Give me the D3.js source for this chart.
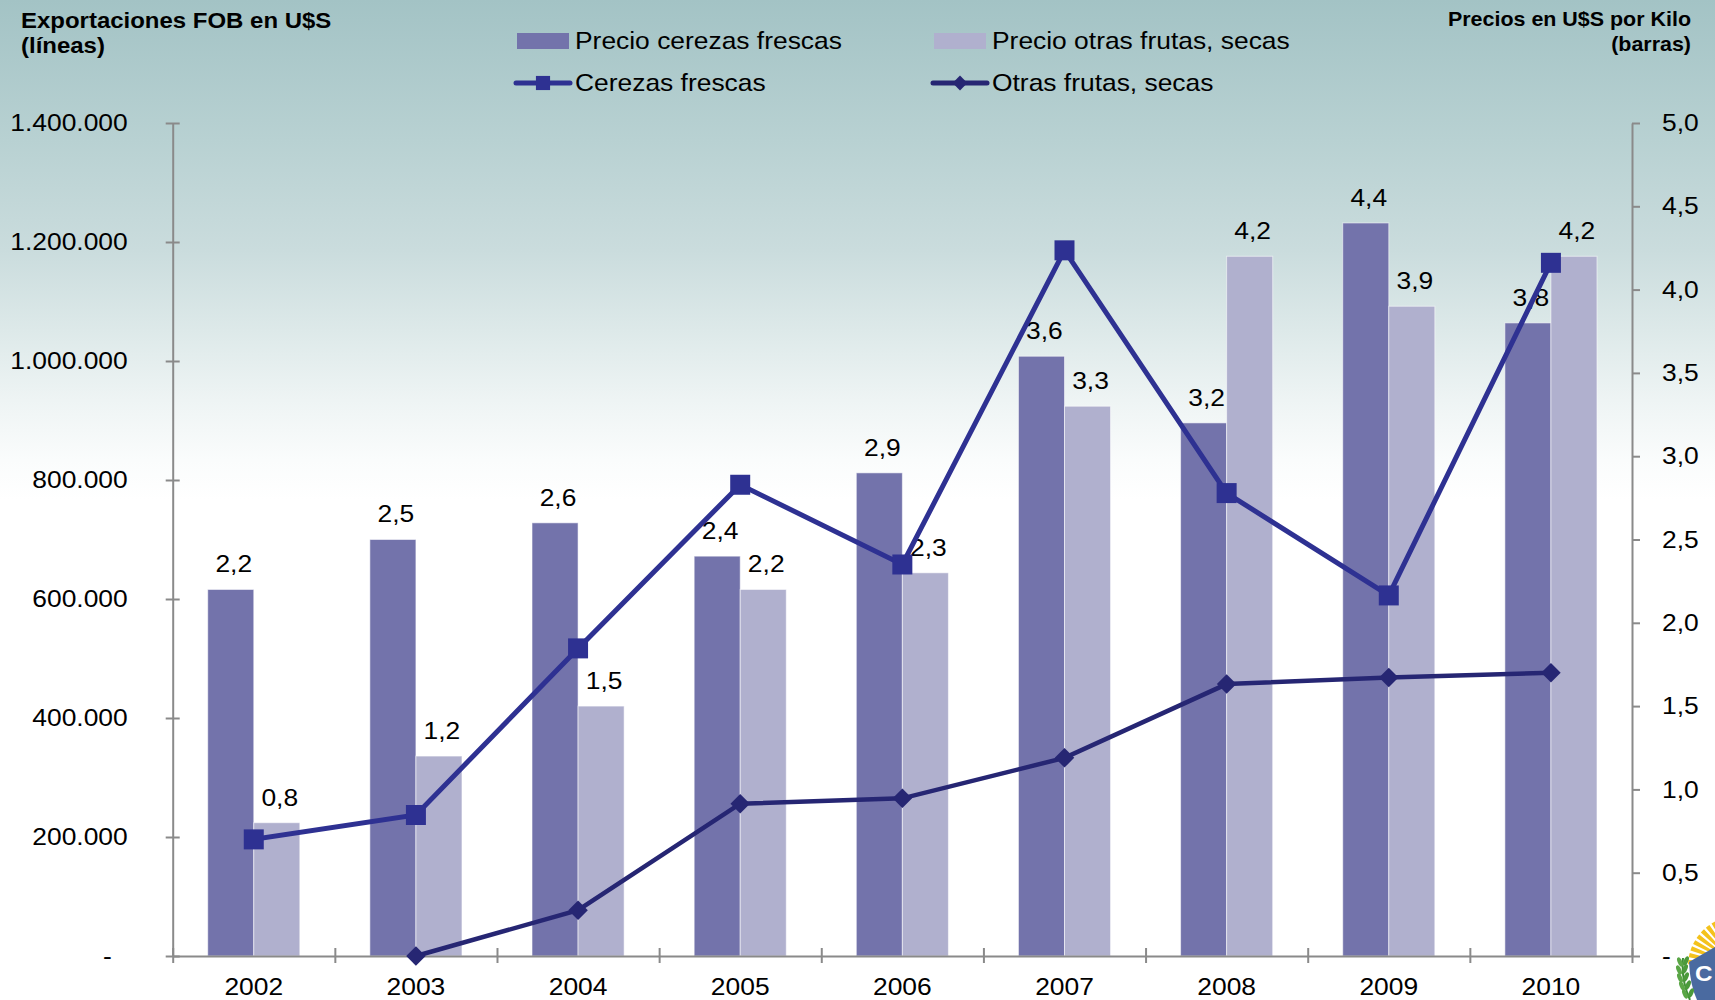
<!DOCTYPE html>
<html>
<head>
<meta charset="utf-8">
<script src="https://cdn.jsdelivr.net/npm/d3@7"></script>
<style>
  html, body { margin: 0; padding: 0; background: #fff; }
  svg { display: block; }
</style>
</head>
<body>
<svg id="chart" width="1715" height="1000"></svg>
<script>
// ---- data ----
const years = ["2002", "2003", "2004", "2005", "2006", "2007", "2008", "2009", "2010"];
// price per kilo (bars, right axis)
const precioCerezas = [2.2, 2.5, 2.6, 2.4, 2.9, 3.6, 3.2, 4.4, 3.8];
const precioOtras   = [0.8, 1.2, 1.5, 2.2, 2.3, 3.3, 4.2, 3.9, 4.2];
// FOB exports in US$ (lines, left axis)
const fobCerezas = [196000, 237000, 517000, 792000, 658000, 1186000, 778000, 606000, 1165000];
const fobOtras   = [null, 0, 77000, 256000, 265000, 333000, 457000, 468000, 476000];
// axis ticks
const leftTicks  = [0, 200000, 400000, 600000, 800000, 1000000, 1200000, 1400000];
const rightTicks = [0, 0.5, 1, 1.5, 2, 2.5, 3, 3.5, 4, 4.5, 5];

const legendItems = [
  { label: "Precio cerezas frescas", type: "bar", color: "#7373ab" },
  { label: "Precio otras frutas, secas", type: "bar", color: "#b0b0ce" },
  { label: "Cerezas frescas", type: "square", color: "#2e3192" },
  { label: "Otras frutas, secas", type: "diamond", color: "#262673" }
];

// ---- setup ----
const SX = 1.1; // horizontal text stretch
const FONT = "'Liberation Sans', Arial, Helvetica, sans-serif";
const svg = d3.select("#chart");
const W = 1715, H = 1000;
const plotLeft = 172.7, plotRight = 1632, plotTop = 123, plotBottom = 956;

const loc = d3.formatLocale({ decimal: ",", thousands: ".", grouping: [3], currency: ["$", ""] });
const fmtInt = loc.format(",.0f");
const fmt1 = loc.format(".1f");

// background gradient
const defs = svg.append("defs");
const grad = defs.append("linearGradient").attr("id", "bg").attr("x1", 0).attr("y1", 0).attr("x2", 0).attr("y2", 1);
[[0, "#a3c3c5"], [0.14, "#b8d1d2"], [0.25, "#cadcdd"], [0.33, "#dde9e9"], [0.40, "#eef4f4"], [0.46, "#fafcfc"], [0.5, "#ffffff"], [1, "#ffffff"]]
  .forEach(([o, c]) => grad.append("stop").attr("offset", o).attr("stop-color", c));
svg.append("rect").attr("width", W).attr("height", H).attr("fill", "url(#bg)");

// ---- scales ----
const x = d3.scaleBand().domain(years).range([plotLeft, plotRight]).padding(0);
const xs = d3.scaleBand().domain(["cer", "otr"])
  .range([x.bandwidth() * 0.216, x.bandwidth() * 0.784]).padding(0);
const yL = d3.scaleLinear().domain([0, 1400000]).range([plotBottom, plotTop]);
const yR = d3.scaleLinear().domain([0, 5]).range([plotBottom, plotTop]);

// ---- bars ----
const barData = years.flatMap((y, i) => [
  { year: y, key: "cer", v: precioCerezas[i], color: "#7373ab" },
  { year: y, key: "otr", v: precioOtras[i], color: "#b0b0ce" }
]);
const gBars = svg.append("g");
gBars.selectAll("rect").data(barData).join("rect")
  .attr("x", d => x(d.year) + xs(d.key))
  .attr("width", xs.bandwidth())
  .attr("y", d => yR(d.v))
  .attr("height", d => yR(0) - yR(d.v))
  .attr("fill", d => d.color)
  .attr("stroke", "rgba(255,255,255,0.55)")
  .attr("stroke-width", 1);

// ---- axes ----
function styleAxis(g) {
  g.attr("font-family", FONT).attr("font-size", 24).attr("color", "#8a8a8a");
  g.selectAll(".domain").attr("stroke-width", 2);
  g.selectAll(".tick line").attr("stroke-width", 2);
  g.selectAll(".tick text").attr("fill", "#000");
}

const gLeft = svg.append("g").attr("transform", `translate(${plotLeft},0)`)
  .call(d3.axisLeft(yL).tickValues(leftTicks).tickSize(7).tickSizeOuter(0).tickPadding(38)
    .tickFormat(v => v === 0 ? "-" : fmtInt(v)));
styleAxis(gLeft);
gLeft.selectAll(".tick line").attr("x1", 7);
gLeft.selectAll(".tick text").filter(d => d === 0).attr("x", -61);

const gRight = svg.append("g").attr("transform", `translate(${plotRight},0)`)
  .call(d3.axisRight(yR).tickValues(rightTicks).tickSize(8).tickSizeOuter(0).tickPadding(22)
    .tickFormat(v => v === 0 ? "-" : fmt1(v)));
styleAxis(gRight);

// category boundaries on the x axis
const xb = d3.scaleLinear().domain([0, years.length]).range([plotLeft, plotRight]);
const gXb = svg.append("g").attr("transform", `translate(0,${plotBottom})`)
  .call(d3.axisBottom(xb).tickValues(d3.range(years.length + 1)).tickSize(7).tickSizeOuter(0).tickFormat(""));
styleAxis(gXb);
gXb.selectAll(".tick line").attr("y1", -8);

const gX = svg.append("g").attr("transform", `translate(0,${plotBottom})`)
  .call(d3.axisBottom(x).tickSize(0).tickPadding(22));
styleAxis(gX);
gX.select(".domain").remove();

// ---- bar value labels ----
svg.append("g").selectAll("text").data(barData).join("text")
  .attr("x", d => x(d.year) + xs(d.key) + xs.bandwidth() / 2 + 3)
  .attr("y", d => yR(d.v) - 17)
  .attr("text-anchor", "middle")
  .attr("font-family", FONT).attr("font-size", 24).attr("fill", "#000")
  .text(d => fmt1(d.v));

// ---- lines ----
const cx = y => x(y) + x.bandwidth() / 2;
function drawSeries(values, color, width, marker) {
  const pts = years.map((y, i) => ({ year: y, v: values[i] }));
  const line = d3.line().defined(d => d.v != null).x(d => cx(d.year)).y(d => yL(d.v));
  svg.append("path").datum(pts).attr("d", line)
    .attr("fill", "none").attr("stroke", color).attr("stroke-width", width).attr("stroke-linejoin", "miter");
  const sym = marker === "square" ? d3.symbol(d3.symbolSquare, 400) : d3.symbol(d3.symbolSquare, 190);
  svg.append("g").selectAll("path").data(pts.filter(d => d.v != null)).join("path")
    .attr("d", sym)
    .attr("transform", d => `translate(${cx(d.year)},${yL(d.v)})` + (marker === "diamond" ? " rotate(45)" : ""))
    .attr("fill", color);
}
drawSeries(fobOtras, "#262673", 4.5, "diamond");
drawSeries(fobCerezas, "#2e3192", 5, "square");

// ---- legend ----
const legendPos = [[517, 41], [934, 41], [517, 83], [934, 83]];
const gLeg = svg.append("g");
legendItems.forEach((it, i) => {
  const [lx, ly] = legendPos[i];
  if (it.type === "bar") {
    gLeg.append("rect").attr("x", lx).attr("y", ly - 8).attr("width", 52).attr("height", 16).attr("fill", it.color);
  } else {
    gLeg.append("line").attr("x1", lx - 1).attr("x2", lx + 53).attr("y1", ly).attr("y2", ly)
      .attr("stroke", it.color).attr("stroke-width", 5).attr("stroke-linecap", "round");
    const sym = it.type === "square" ? d3.symbol(d3.symbolSquare, 200) : d3.symbol(d3.symbolSquare, 110);
    gLeg.append("path").attr("d", sym)
      .attr("transform", `translate(${lx + 26},${ly})` + (it.type === "diamond" ? " rotate(45)" : ""))
      .attr("fill", it.color);
  }
  gLeg.append("text").attr("x", lx + 58).attr("y", ly + 8.5)
    .attr("font-family", FONT).attr("font-size", 24).attr("fill", "#000").text(it.label);
});

// ---- axis titles ----
const titles = svg.append("g").attr("font-family", FONT).attr("font-weight", "bold").attr("fill", "#000");
titles.append("text").attr("x", 21).attr("y", 28).attr("font-size", 21.8).text("Exportaciones FOB en U$S");
titles.append("text").attr("x", 21).attr("y", 53).attr("font-size", 21.8).text("(líneas)");
titles.append("text").attr("x", 1691).attr("y", 26).attr("font-size", 19.5).attr("text-anchor", "end").text("Precios en U$S por Kilo");
titles.append("text").attr("x", 1691).attr("y", 51).attr("font-size", 19.5).attr("text-anchor", "end").text("(barras)");

// ---- emblem in the corner ----
const emb = svg.append("g");
const sun = d3.arc().innerRadius(22).outerRadius(50);
d3.range(-178, -50, 8).forEach(a => {
  const r = a * Math.PI / 180 + Math.PI / 2;
  emb.append("path").attr("d", sun({ startAngle: r, endAngle: r + 0.09 }))
    .attr("transform", "translate(1738,966)").attr("fill", "#f4c21c");
});
emb.append("path").attr("d", "M1689,962 L1715,947 L1715,1000 L1697,1000 Q1690,985 1689,962 Z").attr("fill", "#4a6aa0");
emb.append("text").attr("x", 1695).attr("y", 981).attr("font-family", FONT).attr("font-weight", "bold")
  .attr("font-size", 22).attr("fill", "#fff").text("C");
emb.append("path").attr("d", "M1683,958 Q1681,980 1690,1000").attr("fill", "none").attr("stroke", "#3f8f35").attr("stroke-width", 2);
[[1683, 962], [1682, 970], [1683, 978], [1685, 986], [1688, 994]].forEach(([lx, ly]) => {
  emb.append("ellipse").attr("cx", lx - 3).attr("cy", ly).attr("rx", 2.2).attr("ry", 5)
    .attr("transform", `rotate(-25,${lx - 3},${ly})`).attr("fill", "#5aa646");
  emb.append("ellipse").attr("cx", lx + 3).attr("cy", ly - 1).attr("rx", 2.2).attr("ry", 5)
    .attr("transform", `rotate(25,${lx + 3},${ly - 1})`).attr("fill", "#4b9a3b");
});

// ---- stretch all text horizontally around its anchor ----
svg.selectAll("text").each(function () {
  const t = d3.select(this);
  const tx = +(t.attr("x") || 0);
  const tr = t.attr("transform") || "";
  t.attr("x", tx / SX).attr("transform", (tr ? tr + " " : "") + `scale(${SX},1)`);
});
</script>
</body>
</html>
